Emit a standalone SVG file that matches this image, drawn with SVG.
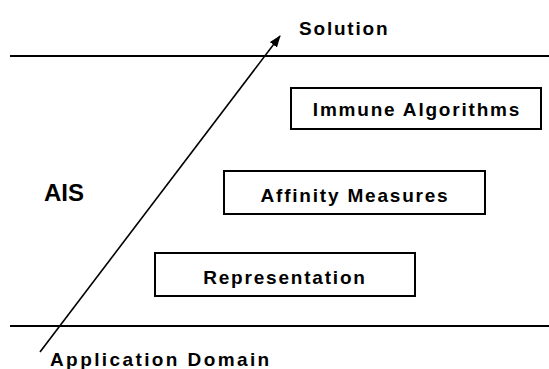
<svg xmlns="http://www.w3.org/2000/svg" width="549" height="369" viewBox="0 0 549 369">
<style>
  .box { fill: #ffffff; stroke: #000000; stroke-width: 2; }
  .lbl { font-family: "Liberation Sans", Arial, sans-serif; font-weight: bold; font-size: 19px; letter-spacing: 1.8px; fill: #000000; }
  .mid { text-anchor: middle; }
  .rule { stroke: #000000; stroke-width: 2; }
  .conn { stroke: #000000; stroke-width: 1.6; fill: none; }
</style>
<defs>
  <marker id="arrow" markerWidth="12" markerHeight="10" refX="11" refY="5" orient="auto" markerUnits="userSpaceOnUse">
    <path d="M0,0.5 L12,5 L0,9.5 z" fill="#000000"/>
  </marker>
</defs>
<rect width="549" height="369" fill="#ffffff"/>
<g id="layers">
  <line class="rule" x1="10" y1="56" x2="549" y2="56"/>
  <line class="rule" x1="10" y1="326" x2="549" y2="326"/>
</g>
<g id="label-ais">
  <text x="44" y="201" font-family="Liberation Sans, Arial, sans-serif" font-weight="bold" font-size="24" fill="#000000">AIS</text>
</g>
<g id="node-immune">
  <rect class="box" x="291" y="88" width="250" height="41"/>
  <text class="lbl mid" x="417" y="116">Immune Algorithms</text>
</g>
<g id="node-affinity">
  <rect class="box" x="224" y="171" width="261" height="43"/>
  <text class="lbl mid" x="355" y="202">Affinity Measures</text>
</g>
<g id="node-representation">
  <rect class="box" x="155" y="253" width="260" height="43"/>
  <text class="lbl mid" x="285" y="284">Representation</text>
</g>
<g id="connectors">
  <line class="conn" x1="40" y1="352" x2="280" y2="36" marker-end="url(#arrow)"/>
</g>
<g id="label-solution">
  <text class="lbl" x="299" y="35">Solution</text>
</g>
<g id="label-application">
  <text class="lbl" x="50" y="366" style="letter-spacing:2.4px">Application Domain</text>
</g>
</svg>
